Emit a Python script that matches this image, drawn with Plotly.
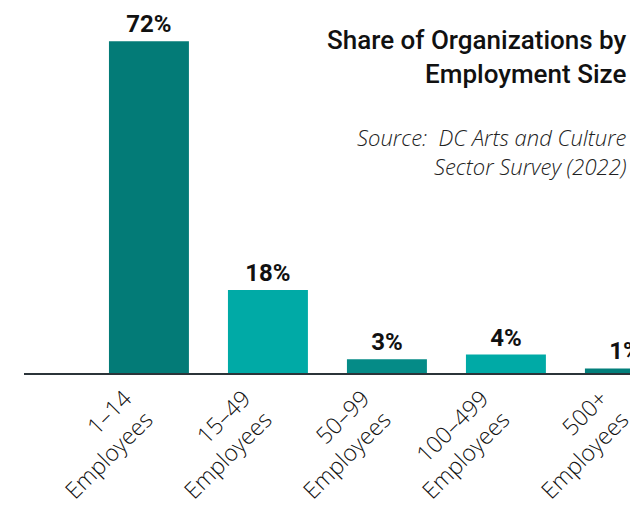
import plotly.graph_objects as go

categories = ["1–14<br>Employees", "15–49<br>Employees", "50–99<br>Employees",
              "100–499<br>Employees", "500+<br>Employees"]
values = [72, 18, 3, 4, 1]
labels = ["72%", "18%", "3%", "4%", "1%"]
colors = ["#037b77", "#00aaa6", "#058b87", "#00aaa6", "#027f7b"]

fig = go.Figure(go.Bar(
    x=categories, y=values, text=labels, textposition="outside",
    marker=dict(color=colors, line=dict(width=0)),
    width=0.672, cliponaxis=False,
    textfont=dict(family="Roboto", size=24, color="#111111", weight=700),
))

fig.update_layout(
    width=630, height=502,
    margin=dict(l=16, r=0, t=0, b=137, autoexpand=False),
    plot_bgcolor="white", paper_bgcolor="white",
    showlegend=False,
    xaxis=dict(range=[-1.05, 4.11], tickangle=-45, showgrid=False, automargin=False,
               showline=True, linecolor="#2b3439", linewidth=2,
               ticks="", ticklabelshift=-24, ticklabelstandoff=1,
               tickfont=dict(family="Open Sans", size=23, color="#111111", weight=300)),
    yaxis=dict(range=[0, 79.2], visible=False, showgrid=False, zeroline=False, automargin=False),
    annotations=[
        dict(text="Share of Organizations by<br>Employment Size", xref="paper", yref="paper",
             x=1, y=1, xanchor="right", yanchor="top", align="right", showarrow=False,
             yshift=-15, xshift=-9,
             font=dict(family="Roboto", size=26, color="#111111", weight=500)),
        dict(text="<i>Source:  DC Arts and Culture<br>Sector Survey (2022)</i>", xref="paper", yref="paper",
             x=1, y=1, xanchor="right", yanchor="top", align="right", showarrow=False,
             yshift=-112, xshift=-9,
             font=dict(family="Open Sans", size=22, color="#222222", weight=300)),
    ],
)

fig.write_html("out.html")
